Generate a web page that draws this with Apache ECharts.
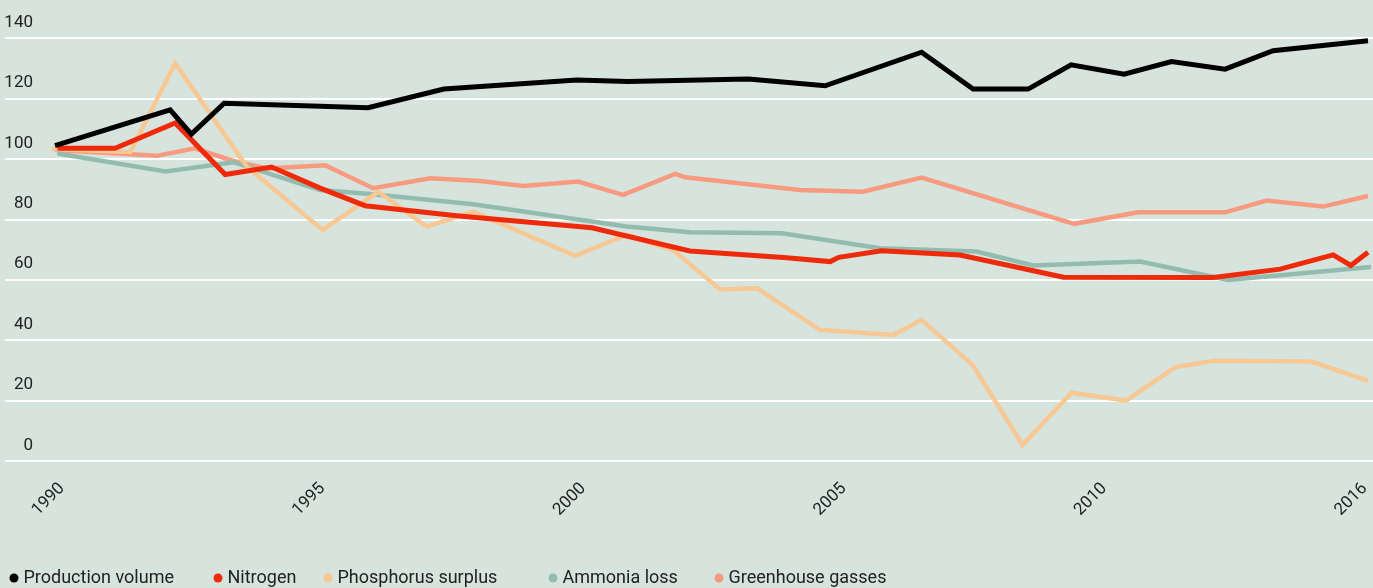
<!DOCTYPE html>
<html>
<head>
<meta charset="utf-8">
<script src="https://cdn.jsdelivr.net/npm/echarts@6/dist/echarts.min.js"></script>
<style>
html,body{margin:0;padding:0;background:#d6e4dd;}
#c{width:1373px;height:588px;}
</style>
</head>
<body>
<div id="c"></div>
<script>
// ---- data ----
const xLabels = ["1990", "1995", "2000", "2005", "2010", "2016"];
const yTicks = [0, 20, 40, 60, 80, 100, 120, 140];
const seriesNames = ["Production volume", "Nitrogen", "Phosphorus surplus", "Ammonia loss", "Greenhouse gasses"];

const productionVolume = [
  [1990.0, 104.4], [1992.28, 116.2], [1992.7, 108.2], [1993.35, 118.4], [1996.2, 116.9],
  [1997.7, 123.1], [2000.33, 126.1], [2001.35, 125.6], [2003.73, 126.4], [2005.25, 124.2],
  [2007.16, 135.3], [2008.18, 123.1], [2009.27, 123.1], [2010.12, 131.1], [2011.17, 128.0],
  [2012.11, 132.2], [2013.17, 129.7], [2014.12, 135.8], [2016.0, 139.1]
];
const nitrogen = [
  [1990.05, 103.5], [1991.19, 103.5], [1992.38, 111.9], [1993.37, 94.8], [1994.29, 97.3],
  [1995.25, 90.3], [1996.14, 84.5], [1998.0, 81.1], [2000.63, 77.2], [2002.57, 69.5],
  [2004.49, 67.3], [2005.35, 66.0], [2005.52, 67.4], [2006.37, 69.6], [2007.92, 68.2],
  [2009.97, 60.8], [2012.94, 60.7], [2014.26, 63.5], [2015.31, 68.2], [2015.66, 64.7],
  [2016.0, 69.1]
];
const phosphorusSurplus = [
  [1989.9, 103.3], [1991.49, 102.3], [1992.38, 131.6], [1993.8, 97.4], [1995.3, 76.5],
  [1996.4, 89.1], [1997.36, 77.6], [1998.28, 82.5], [2000.3, 67.9], [2001.32, 74.8],
  [2002.24, 69.8], [2003.17, 56.8], [2003.9, 57.2], [2005.15, 43.4], [2006.6, 41.7],
  [2007.16, 46.7], [2008.17, 31.8], [2009.16, 5.3], [2010.13, 22.6], [2011.21, 20.0],
  [2012.18, 31.0], [2012.94, 33.2], [2014.88, 32.9], [2016.0, 26.5]
];
const ammoniaLoss = [
  [1990.05, 101.8], [1992.19, 95.8], [1993.53, 98.9], [1995.25, 89.7], [1996.24, 88.4],
  [1998.28, 85.0], [2001.32, 77.6], [2002.57, 75.7], [2004.39, 75.4], [2006.34, 70.4],
  [2008.25, 69.3], [2009.37, 64.7], [2011.49, 66.0], [2013.23, 59.9], [2016.1, 64.3]
];
const greenhouseGasses = [
  [1990.0, 102.9], [1992.01, 101.0], [1992.77, 103.5], [1993.53, 99.3], [1994.2, 96.8],
  [1995.35, 97.9], [1996.3, 90.3], [1997.43, 93.6], [1998.42, 92.7], [1999.27, 91.0],
  [2000.36, 92.5], [2001.25, 88.1], [2002.28, 95.0], [2002.48, 93.9], [2004.75, 89.7],
  [2006.0, 89.1], [2007.16, 93.8], [2010.18, 78.5], [2011.45, 82.3], [2013.17, 82.3],
  [2013.99, 86.2], [2015.11, 84.2], [2016.0, 87.7]
];

// ---- style ----
const colors = ["#000000", "#ee2a0a", "#f7c893", "#93bcb0", "#f89a80"];
const widths = [5, 5, 4.5, 4.5, 4.5];
const FONT = "Roboto";
const TEXT = "#222222";

const seriesData = [productionVolume, nitrogen, phosphorusSurplus, ammoniaLoss, greenhouseGasses];
const drawOrder = [4, 3, 2, 1, 0];
const legendLefts = [9.5, 213.5, 323.5, 548.5, 714.5];

const chart = echarts.init(document.getElementById('c'), null, {renderer: 'canvas'});

const series = drawOrder.map((i, k) => ({
  name: seriesNames[i],
  type: 'line',
  xAxisIndex: 1,
  yAxisIndex: 1,
  data: seriesData[i],
  showSymbol: false,
  symbol: 'circle',
  clip: false,
  color: colors[i],
  lineStyle: {color: colors[i], width: widths[i], cap: 'butt', join: 'miter'},
  emphasis: {disabled: true},
  z: 2 + k
}));

const legends = seriesNames.map((n, i) => ({
  data: [{name: n, icon: 'circle', itemStyle: {color: colors[i]}}],
  left: legendLefts[i],
  top: 567,
  padding: 0,
  itemWidth: 9,
  itemHeight: 9,
  selectedMode: false,
  textStyle: {fontFamily: FONT, fontSize: 18, color: TEXT, lineHeight: 22}
}));

chart.setOption({
  animation: false,
  backgroundColor: '#d6e4dd',
  grid: [
    {left: 5, right: 0, top: 38, bottom: 127, containLabel: false},
    {left: 55, right: 5, top: 38, bottom: 127, containLabel: false},
    {left: 62, right: 1, top: 38, bottom: 127, containLabel: false}
  ],
  xAxis: [
    {gridIndex: 0, type: 'value', min: 0, max: 1, show: false},
    {gridIndex: 1, type: 'value', min: 1990, max: 2016, show: false, position: 'top'},
    {gridIndex: 2, type: 'category', data: xLabels, boundaryGap: false, position: 'bottom',
     axisLine: {show: false}, axisTick: {show: false}, splitLine: {show: false},
     axisLabel: {interval: 0, rotate: 45, margin: 25, fontFamily: FONT, fontSize: 17, color: TEXT}}
  ],
  yAxis: [
    {gridIndex: 0, type: 'value', min: yTicks[0], max: yTicks[yTicks.length - 1], interval: 20,
     axisLine: {show: false}, axisTick: {show: false},
     splitLine: {show: true, lineStyle: {color: '#ffffff', width: 2}},
     axisLabel: {inside: true, margin: 28, align: 'right', verticalAlign: 'bottom',
       padding: [0, 0, 7, 0], fontFamily: FONT, fontSize: 17, color: TEXT,
       showMinLabel: true, showMaxLabel: true}},
    {gridIndex: 1, type: 'value', min: 0, max: 140, show: false},
    {gridIndex: 2, type: 'value', min: 0, max: 140, show: false}
  ],
  legend: legends,
  series: series
});
</script>
</body>
</html>
